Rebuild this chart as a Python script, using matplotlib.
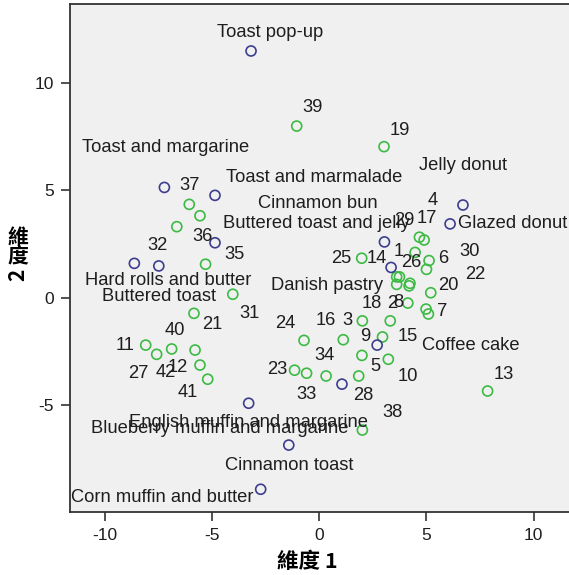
"""
MDS joint plot (breakfast foods × subjects): 維度 1 vs 維度 2.
"""

import matplotlib
matplotlib.use("Agg")
import matplotlib.pyplot as plt

plt.rcParams["font.family"] = ["Liberation Sans", "DejaVu Sans"]
plt.rcParams["axes.unicode_minus"] = False

# ── Data: object points (foods) ──────────────────────────────────────────────
FOOD_NAMES = [
    "Toast pop-up", "Toast and margarine", "Toast and marmalade",
    "Buttered toast and jelly", "Buttered toast", "Hard rolls and butter",
    "Cinnamon bun", "Danish pastry", "Jelly donut", "Glazed donut",
    "Coffee cake", "English muffin and margarine",
    "Blueberry muffin and margarine", "Cinnamon toast",
    "Corn muffin and butter",
]
FOOD_DIM1 = [-3.17, -7.21, -4.85, -4.85, -8.61, -7.47, 3.05, 3.36,
             6.71, 6.11, 2.71, -3.28, 1.07, -1.41, -2.72]
FOOD_DIM2 = [11.50, 5.14, 4.77, 2.56, 1.60, 1.48, 2.60, 1.41,
             4.32, 3.44, -2.21, -4.92, -4.03, -6.87, -8.93]

# ── Data: subject points (1..42) ─────────────────────────────────────────────
SUBJECT_IDS = list(range(1, 43))
SUBJECT_DIM1 = [4.48, 4.14, 2.02, 5.01, 0.33, 5.13, 5.10, 4.20, 2.96, 3.23,
                -8.08, -5.55, 7.86, 3.62, 3.32, 1.13, 4.90, 3.62, 3.03, 5.21,
                -5.83, 4.99, -1.14, -0.70, 1.99, 3.75, -7.57, 1.85, 4.68, 4.24,
                -4.02, -6.63, -0.58, 2.00, -5.29, -5.55, -6.05, 2.02, -1.04,
                -6.87, -5.19, -5.78]
SUBJECT_DIM2 = [2.11, -0.25, -1.08, 1.32, -3.65, 1.73, -0.76, 0.55, -1.83,
                -2.87, -2.21, -3.14, -4.35, 0.97, -1.08, -1.96, 2.69, 0.62,
                7.04, 0.23, -0.73, -0.53, -3.38, -1.99, 1.84, 0.97, -2.64,
                -3.65, 2.82, 0.67, 0.16, 3.31, -3.52, -2.69, 1.56, 3.82, 4.35,
                -6.17, 8.00, -2.39, -3.80, -2.44]

# ── Layout: label offsets in pixels (dx right, dy up) ────────────────────────
FOOD_LABEL_OFFSET = {
    "Toast pop-up": (19, 18),
    "Toast and margarine": (1, 40),
    "Toast and marmalade": (99, 18),
    "Buttered toast and jelly": (101, 19),
    "Buttered toast": (25, -33),
    "Hard rolls and butter": (9, -15),
    "Cinnamon bun": (-67, 38),
    "Danish pastry": (-64, -18),
    "Jelly donut": (0, 40),
    "Glazed donut": (63, 0),
    "Coffee cake": (94, 0),
    "English muffin and margarine": (0, -19),
    "Blueberry muffin and margarine": (-122, -44),
    "Cinnamon toast": (0, -20),
    "Corn muffin and butter": (-98, -8),
}
SUBJECT_LABEL_OFFSET = {
    1: (-16, 1), 2: (-16, 0), 3: (-15, 0), 4: (6, 69), 5: (49, 9),
    6: (14, 2), 7: (14, 2), 8: (-11, -17), 9: (-17, 0), 10: (20, -17),
    11: (-21, 0), 12: (-22, -2), 13: (16, 17), 14: (-20, 18), 15: (18, -16),
    16: (-18, 19), 17: (3, 21), 18: (-25, -19), 19: (16, 16), 20: (18, 7),
    21: (18, -11), 22: (49, 35), 23: (-17, 1), 24: (-19, 17), 25: (-20, 0),
    26: (12, 14), 27: (-18, -19), 28: (5, -20), 29: (-15, 17), 30: (60, 32),
    31: (17, -19), 32: (-19, -19), 33: (0, -21), 34: (-37, 0), 35: (29, 10),
    36: (2, -21), 37: (0, 19), 38: (30, 18), 39: (16, 19), 40: (3, 18),
    41: (-20, -13), 42: (-29, -22),
}

FOOD_COLOR = "#3d3d8f"
SUBJECT_COLOR = "#3cba44"
LABEL_SIZE = 13.2
TEXT_COLOR = "#1e1e1e"
CJK = ["Noto Sans CJK TC", "DejaVu Sans"]


def plot(out_path: str) -> None:
    fig = plt.figure(figsize=(5.69, 5.75), dpi=100)
    W, H = 569, 575
    # axes runs past the right edge of the picture (cropped like the original)
    ax = fig.add_axes([70 / W, 1 - 512 / H, (585 - 70) / W, (512 - 4) / H])
    ax.set_facecolor("#f0f0f0")

    ax.scatter(SUBJECT_DIM1, SUBJECT_DIM2, s=52, facecolors="none",
               edgecolors=SUBJECT_COLOR, linewidths=1.2, zorder=3)
    ax.scatter(FOOD_DIM1, FOOD_DIM2, s=52, facecolors="none",
               edgecolors=FOOD_COLOR, linewidths=1.2, zorder=3)

    for sid, x, y in zip(SUBJECT_IDS, SUBJECT_DIM1, SUBJECT_DIM2):
        ax.annotate(str(sid), xy=(x, y), xytext=SUBJECT_LABEL_OFFSET[sid],
                    textcoords="offset pixels", ha="center", va="center",
                    fontsize=LABEL_SIZE, color=TEXT_COLOR, zorder=4)
    for name, x, y in zip(FOOD_NAMES, FOOD_DIM1, FOOD_DIM2):
        ax.annotate(name, xy=(x, y), xytext=FOOD_LABEL_OFFSET[name],
                    textcoords="offset pixels", ha="center", va="center",
                    fontsize=LABEL_SIZE, color=TEXT_COLOR, zorder=4)

    ax.set_xlim(-11.61, 12.40)
    ax.set_ylim(-9.99, 13.69)
    ax.set_xticks([-10, -5, 0, 5, 10])
    ax.set_yticks([-5, 0, 5, 10])
    ax.tick_params(direction="out", length=6.5, width=1.2, color="#333333",
                   labelsize=12.5, labelcolor=TEXT_COLOR, pad=5)
    for side in ("left", "bottom", "top"):
        ax.spines[side].set_color("#333333")
        ax.spines[side].set_linewidth(1.3)
    ax.spines["right"].set_visible(False)

    # axis titles (y title stacked vertically, CJK upright)
    fig.text(307 / W, 1 - 562 / H, "維度 1", ha="center", va="center",
             fontsize=15.5, fontweight="bold", family=CJK)
    fig.text(18 / W, 1 - 237 / H, "維", ha="center", va="center",
             fontsize=15, fontweight="bold", family=CJK)
    fig.text(18 / W, 1 - 257 / H, "度", ha="center", va="center",
             fontsize=15, fontweight="bold", family=CJK)
    fig.text(18 / W, 1 - 275 / H, "2", ha="center", va="center", rotation=90,
             fontsize=15, fontweight="bold", family=CJK)

    fig.savefig(out_path, dpi=100, facecolor="white")
    plt.close(fig)


if __name__ == "__main__":
    plot("out.png")
